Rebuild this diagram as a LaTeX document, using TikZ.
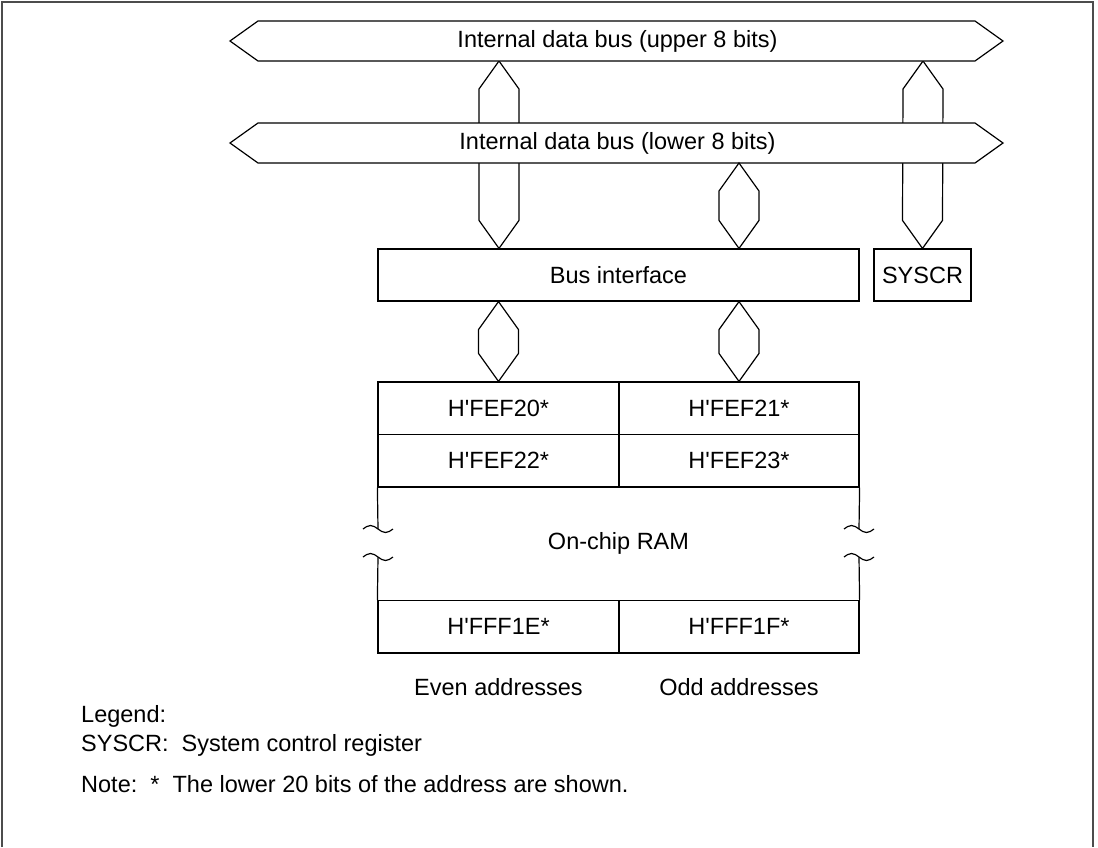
\documentclass[tikz,border=0pt]{standalone}
\usepackage{fontspec}
\setmainfont{Liberation Sans}[Ligatures=TeXOff]
\usetikzlibrary{calc}
\newcommand\busarrow[2]{%
  \draw[conn] (#1) -- ($(#1)+(20,28)$) -- ($(#2)+(20,-28)$) -- (#2) -- ($(#2)+(-20,-28)$) -- ($(#1)+(-20,28)$) -- cycle;}
\newcommand\busbar[2]{%
  \draw[conn] (230,{(#1+#2)/2}) -- (258,#1) -- (975,#1) -- (1003,{(#1+#2)/2}) -- (975,#2) -- (258,#2) -- cycle;}
\newcommand\brkmark[1]{%
  \draw[conn] ($(#1)+(-15,0)$) sin ++(7.5,-3.5) cos ++(7.5,3.5) sin ++(7.5,3.5) cos ++(7.5,-3.5);}
\begin{document}
\begin{tikzpicture}[x=1pt,y=-1pt,
  font=\fontsize{23.5}{28}\selectfont,
  conn/.style={draw=black, line width=1.2pt, fill=white, line join=miter},
  box/.style={draw=black, line width=1.2pt, fill=white, inner sep=0pt},
  lbl/.style={inner sep=0pt},
  frameline/.style={draw=black!70, line width=1.6pt}]
\useasboundingbox (0,0) rectangle (1098,847);
\draw[frameline] (2,847) -- (2,2) -- (1093,2) -- (1093,847);

% named anchor points
\coordinate (ubS-L) at (499,61);
\coordinate (ubS-R) at (923,61);
\coordinate (lbS-M) at (739,163);

% boxes
\node[box, minimum width=481, minimum height=52] (bi) at (618.5,275) {Bus interface};
\node[box, minimum width=97, minimum height=52] (sys) at (922.5,275) {SYSCR};

% long connectors (behind the lower bus)
\busarrow{ubS-L}{bi.north -| ubS-L}
\busarrow{ubS-R}{sys.north}

% buses
\busbar{21}{61}
\node[lbl] (ubus) at (617.5,41) {Internal data bus (upper 8 bits)};
\busbar{123}{163}
\node[lbl] (lbus) at (617.5,143) {Internal data bus (lower 8 bits)};

\busarrow{lbS-M}{bi.north -| lbS-M}

% RAM cells
\node[box, minimum width=241, minimum height=52.5] (r11) at (498.5,408.25) {H'FEF20*};
\node[box, minimum width=240, minimum height=52.5] (r12) at (739,408.25) {H'FEF21*};
\node[box, minimum width=241, minimum height=52.5] (r21) at (498.5,460.75) {H'FEF22*};
\node[box, minimum width=240, minimum height=52.5] (r22) at (739,460.75) {H'FEF23*};
\node[box, minimum width=241, minimum height=52.5] (r31) at (498.5,626.75) {H'FFF1E*};
\node[box, minimum width=240, minimum height=52.5] (r32) at (739,626.75) {H'FFF1F*};

\busarrow{bi.south -| r11}{r11.north}
\busarrow{bi.south -| r12}{r12.north}

% side walls with break marks
\coordinate (bkL1) at (378,529);
\coordinate (bkL2) at (378,557);
\coordinate (bkR1) at (859,529);
\coordinate (bkR2) at (859,557);
\draw[conn] (r21.south west) -- (bkL1);
\draw[conn] (bkL2) -- (r31.north west);
\draw[conn] (r22.south east) -- (bkR1);
\draw[conn] (bkR2) -- (r32.north east);
\brkmark{bkL1}
\brkmark{bkL2}
\brkmark{bkR1}
\brkmark{bkR2}

\node[lbl] (ram) at (618.5,543) {On-chip RAM};
\node[lbl] (even) at (498.5,687) {Even addresses};
\node[lbl] (odd) at (739,687) {Odd addresses};

\node[lbl, anchor=west] (leg) at (81,716.5) {Legend:};
\node[lbl, anchor=west] (legs) at (81,745) {SYSCR:\ \ System control register};
\node[lbl, anchor=west] (note) at (81,784) {Note:\ \ *\ \ The lower 20 bits of the address are shown.};
\end{tikzpicture}
\end{document}
